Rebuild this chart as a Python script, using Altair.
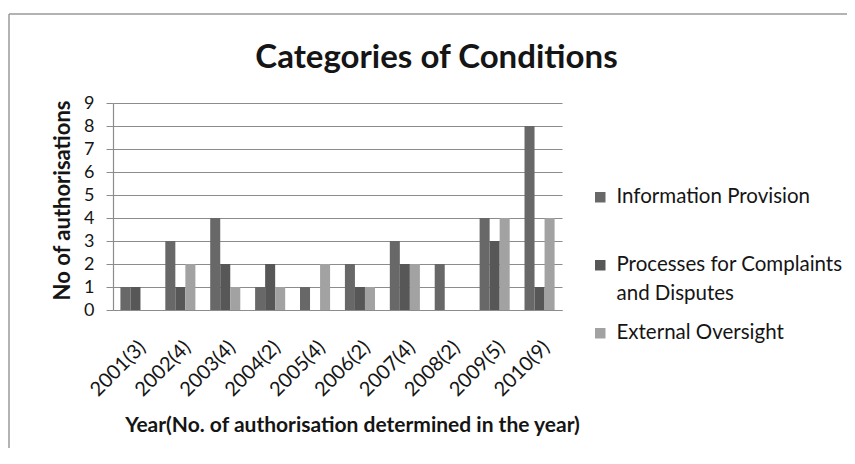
import altair as alt
import pandas as pd

years = ["2001(3)", "2002(4)", "2003(4)", "2004(2)", "2005(4)",
         "2006(2)", "2007(4)", "2008(2)", "2009(5)", "2010(9)"]
info_provision = [1, 3, 4, 1, 1, 2, 3, 2, 4, 8]
complaints = [1, 1, 2, 2, 0, 1, 2, 0, 3, 1]
oversight = [0, 2, 1, 1, 2, 1, 2, 0, 4, 4]
series = ["Information Provision", "Processes for Complaints and Disputes", "External Oversight"]
colors = ["#686868", "#575757", "#a2a2a2"]
y_ticks = list(range(10))

rows = []
for name, vals in zip(series, [info_provision, complaints, oversight]):
    for yr, v in zip(years, vals):
        rows.append({"year": yr, "series": name, "value": v})
df = pd.DataFrame(rows)

grid = "#8c8c8c"
txt = "#151515"

bars = alt.Chart(df).mark_bar().encode(
    x=alt.X("year:N", sort=years,
            scale=alt.Scale(paddingInner=0.33, paddingOuter=0.165),
            axis=alt.Axis(title="Year(No. of authorisation determined in the year)",
                          labelAngle=-45, labelFontSize=20, labelPadding=27,
                          ticks=False, domainColor=grid, domainWidth=1.2,
                          labelColor=txt, titleFontSize=21, titleFontWeight="bold",
                          titleColor=txt, titleX=239, titleY=121,
                          titleBaseline="alphabetic")),
    xOffset=alt.XOffset("series:N", sort=series,
                        scale=alt.Scale(paddingInner=0, paddingOuter=0)),
    y=alt.Y("value:Q", scale=alt.Scale(domain=[0, 9], nice=False),
            axis=alt.Axis(title="No of authorisations", values=y_ticks,
                          tickSize=7, tickColor=grid, labelPadding=12,
                          labelFontSize=18, labelColor=txt,
                          domainColor=grid, domainWidth=1.2,
                          gridColor=grid, gridWidth=1.2,
                          titleFontSize=22, titleFontWeight="bold", titleColor=txt,
                          titleX=-51, titleY=97, titleBaseline="middle",
                          titleAlign="center")),
    color=alt.Color("series:N", sort=series,
                    scale=alt.Scale(domain=series, range=colors),
                    legend=alt.Legend(title=None, orient="none", legendX=477, legendY=84,
                                      symbolType="square", symbolSize=110,
                                      symbolStrokeWidth=0, symbolOpacity=1,
                                      labelFontSize=20.5, labelColor=txt,
                                      labelOffset=6, labelLimit=400,
                                      rowPadding=18, gridAlign="all",
                                      labelExpr="datum.label == 'Processes for Complaints and Disputes' ? ['Processes for Complaints', 'and Disputes'] : datum.label")),
)

one = pd.DataFrame({"k": [0]})
frame_top = alt.Chart(one).mark_rule(color="#9a9a9a", strokeWidth=1.5).encode(
    x=alt.value(-104), x2=alt.value(760), y=alt.value(-89))
frame_left = alt.Chart(one).mark_rule(color="#9a9a9a", strokeWidth=1.5).encode(
    x=alt.value(-104), y=alt.value(-89), y2=alt.value(400))

chart = alt.layer(bars, frame_top, frame_left).properties(
    width=449, height=207,
    title=alt.TitleParams("Categories of Conditions", fontSize=33, fontWeight="bold",
                          color=txt, anchor="middle", dx=99, dy=92,
                          baseline="alphabetic"),
    autosize=alt.AutoSizeParams(type="none"),
    padding={"left": 105, "top": 95, "right": 285, "bottom": 138},
).configure(
    font="Lato",
    style={"guide-label": {"lineHeight": 29}},
).configure_view(stroke=None)

chart.save("out.html", embed_options={"renderer": "svg", "actions": False})
